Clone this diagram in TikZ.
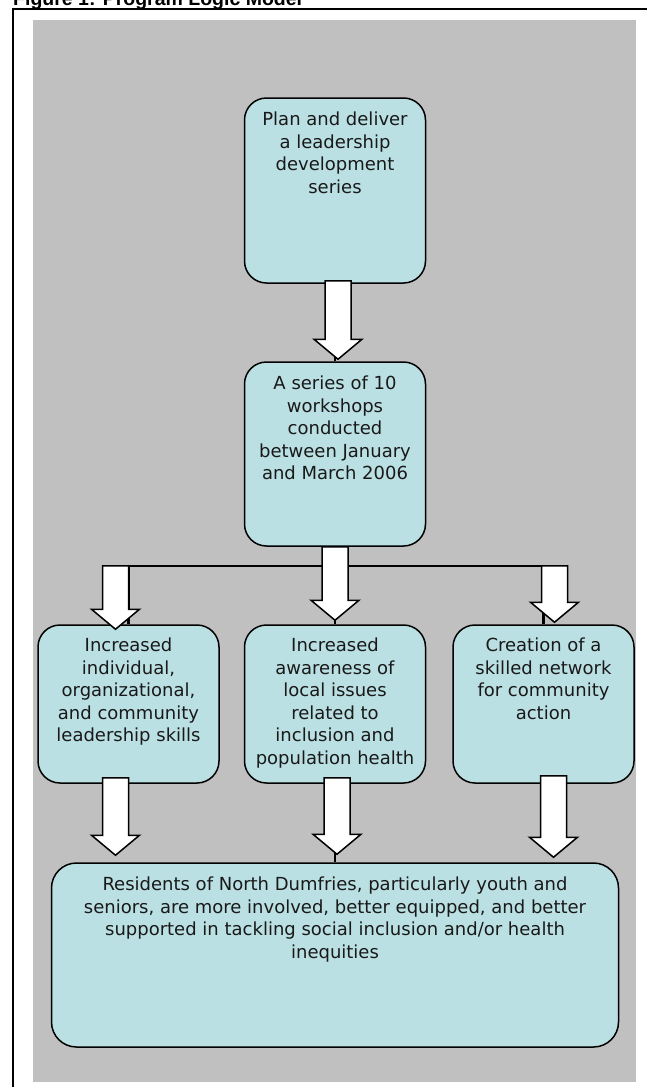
\documentclass[tikz,border=0pt]{standalone}
\usepackage{fontspec}
\setmainfont{DejaVu Sans}
\newfontfamily\titlefont{Liberation Sans}
\usepackage{xcolor}
\usepackage{tikz}
\usetikzlibrary{positioning,calc}
\definecolor{boxblue}{HTML}{BBE0E3}
\definecolor{panelgray}{HTML}{C0C0C0}

% block arrow pointing down: #1 top of shaft, #2 tip
\newcommand{\blockdown}[2]{%
  \draw[blockarrow] let \p1=#1, \p2=#2 in
    (\x1-13pt,\y1) -- (\x1+13pt,\y1) -- (\x1+13pt,\y2+20pt) -- (\x1+24pt,\y2+20pt)
    -- (\x1,\y2) -- (\x1-24pt,\y2+20pt) -- (\x1-13pt,\y2+20pt) -- cycle;}

\begin{document}
\begin{tikzpicture}[x=1pt, y=-1pt,
  logicbox/.style={draw=black, line width=1.5pt, fill=boxblue, rounded corners=22pt, minimum width=181pt, inner sep=0pt},
  boxtext/.style={align=center, font=\fontsize{18}{22.5}\selectfont, text=black!90, inner sep=0pt, anchor=north},
  flowline/.style={line width=2.5pt},
  blockarrow/.style={draw=black, line width=1.5pt, fill=white, line join=miter},
]
\useasboundingbox (0,0) rectangle (647,1087);
% page frame and grey panel
\fill[panelgray] (33,20) rectangle (636,1082);
\draw[line width=2pt] (13,1100) -- (13,9) -- (660,9);
\node[font=\titlefont\bfseries\fontsize{19.5}{23}\selectfont, anchor=base west, inner sep=0pt] (title) at (13,5) {Figure 1: Program Logic Model};

% boxes
\node[logicbox, minimum height=185pt] (plan) at (335,190.5) {};
\node[logicbox, minimum height=184pt] (series) at (335,454) {};
\node[logicbox, minimum height=158pt] (indiv) at (128.5,704) {};
\node[logicbox, minimum height=158pt] (aware) at (335,704) {};
\node[logicbox, minimum height=158pt] (network) at (543.5,704) {};
\node[logicbox, minimum width=567pt, minimum height=184pt, rounded corners=25pt] (resid) at (335,955) {};

% connector lines
\coordinate (fork) at ($(series.south)+(0,19)$);
\draw[flowline] (plan.south) -- (series.north);
\draw[flowline] (series.south) -- (fork);
\draw[flowline] (fork -| indiv.north) -- (fork -| network.north);
\draw[flowline] (fork -| indiv.north) -- (indiv.north);
\draw[flowline] (fork) -- (aware.north);
\draw[flowline] (fork -| network.north) -- (network.north);
\draw[flowline] (aware.south) -- (resid.north);

% block arrows
\blockdown{($(plan.south)+(3,-3)$)}{($(series.north)+(3,-2)$)}
\blockdown{($(fork -| indiv.north)+(-13,0)$)}{($(indiv.north)+(-13,5)$)}
\blockdown{(series.south)}{($(aware.north)+(0,-4)$)}
\blockdown{($(fork -| network.north)+(11,0)$)}{($(network.north)+(11,-2)$)}
\blockdown{($(indiv.south)+(-13,-6)$)}{($(resid.north -| indiv.south)+(-13,-7)$)}
\blockdown{($(aware.south)+(2,-6)$)}{($(resid.north)+(2,-8)$)}
\blockdown{($(network.south)+(10,-8)$)}{($(resid.north -| network.south)+(10,-5)$)}

% texts
\node[boxtext, below=14.5pt of plan.north] (plantext) {Plan and deliver\\a leadership\\development\\series};
\node[boxtext, below=14.5pt of series.north] (seriestext) {A series of 10\\workshops\\conducted\\between January\\and March 2006};
\node[boxtext, below=13.5pt of indiv.north] (indivtext) {Increased\\individual,\\organizational,\\and community\\leadership skills};
\node[boxtext, below=13.5pt of aware.north] (awaretext) {Increased\\awareness of\\local issues\\related to\\inclusion and\\population health};
\node[boxtext, below=13.5pt of network.north] (networktext) {Creation of a\\skilled network\\for community\\action};
\node[boxtext, below=14.5pt of resid.north] (residtext) {Residents of North Dumfries, particularly youth and\\seniors, are more involved, better equipped, and better\\supported in tackling social inclusion and/or health\\inequities};
\end{tikzpicture}
\end{document}
